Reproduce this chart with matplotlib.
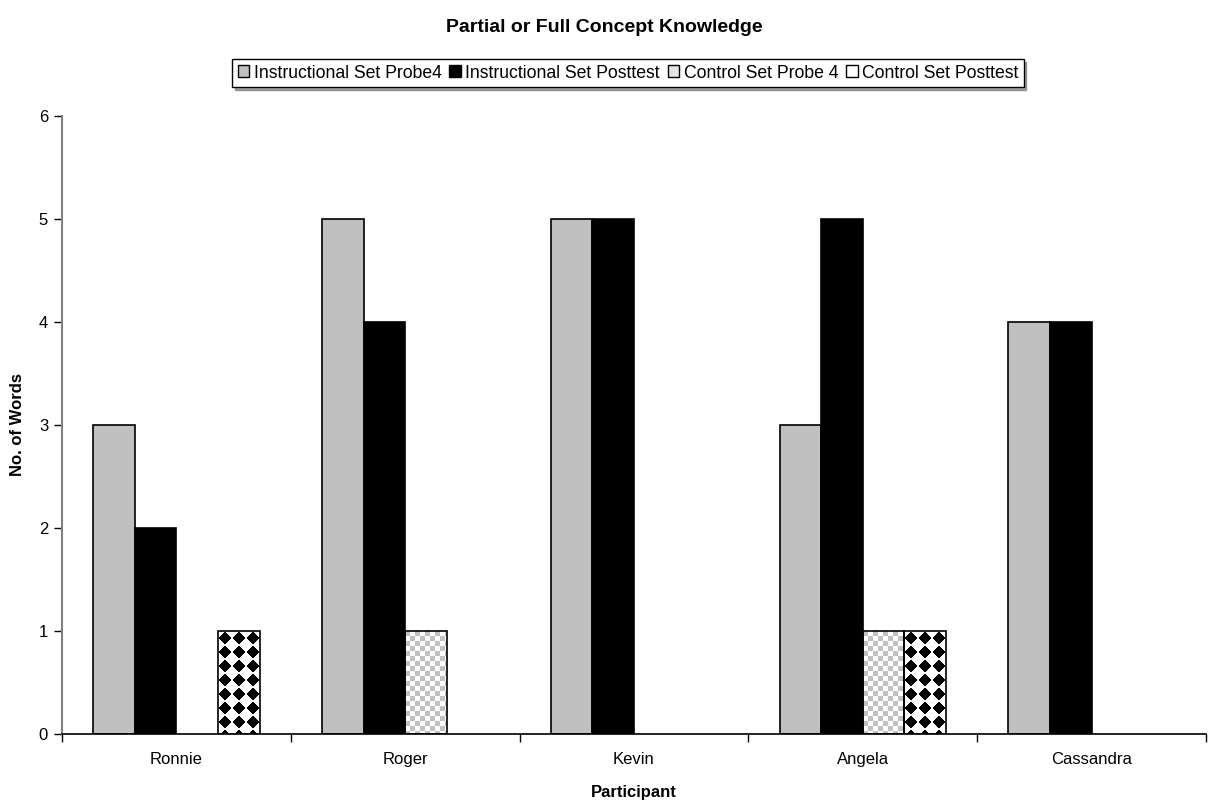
import numpy as np
import matplotlib
matplotlib.use("Agg")
import matplotlib.pyplot as plt
from matplotlib.patches import Patch

plt.rcParams['font.family'] = ['Liberation Sans', 'DejaVu Sans']

participants = ["Ronnie", "Roger", "Kevin", "Angela", "Cassandra"]
series_names = ["Instructional Set Probe4", "Instructional Set Posttest",
                "Control Set Probe 4", "Control Set Posttest"]
instr_probe4 = [3, 5, 5, 3, 4]
instr_posttest = [2, 4, 5, 5, 4]
control_probe4 = [0, 1, 0, 1, 0]
control_posttest = [1, 0, 0, 1, 0]
y_ticks = [0, 1, 2, 3, 4, 5, 6]

W, H, DPI = 12.08, 8.08, 100
fig = plt.figure(figsize=(W, H), dpi=DPI)
ax = fig.add_axes([62 / 1208, 1 - 734 / 808, (1206 - 62) / 1208, (734 - 116) / 808])

n = len(participants)
x = np.arange(n)
bw = 1 / 5.5
ax.set_xlim(-0.5, n - 0.5)
ax.set_ylim(0, 6)

# pixels per data unit, used for sizing the fill patterns
px_x = (1206 - 62) / n
px_y = (734 - 116) / 6


def checker(h_px, w_px, cell=5):
    yy, xx = np.mgrid[0:h_px, 0:w_px]
    on = ((yy // cell) + (xx // cell)) % 2 == 0
    img = np.ones((h_px, w_px, 3))
    img[on] = 0.76
    return img


def diamonds(h_px, w_px, step=14, r=6.2):
    yy, xx = np.mgrid[0:h_px, 0:w_px].astype(float)
    dx = np.abs(((xx + 0.5) % step) - step / 2)
    dy = np.abs(((yy + 0.5) % step) - step / 2)
    on = (dx + dy) <= r
    img = np.ones((h_px, w_px, 3))
    img[on] = 0.0
    return img


def patterned_bars(xpos, vals, maker):
    for xc, v in zip(xpos, vals):
        if v <= 0:
            continue
        rect = ax.bar(xc, v, bw, facecolor='white', edgecolor='none', zorder=2)[0]
        x0 = rect.get_x()
        w = rect.get_width()
        h_px = max(int(round(v * px_y)), 1)
        w_px = max(int(round(w * px_x)), 1)
        im = ax.imshow(maker(h_px, w_px), extent=(x0, x0 + w, 0, v),
                       origin='upper', interpolation='nearest', aspect='auto',
                       zorder=2.5)
        im.set_clip_path(rect)
        ax.bar(xc, v, bw, fill=False, edgecolor='black', linewidth=1.2, zorder=3)


ax.bar(x - 1.5 * bw, instr_probe4, bw, color='#c0c0c0', edgecolor='black',
       linewidth=1.2, zorder=3)
ax.bar(x - 0.5 * bw, instr_posttest, bw, color='black', edgecolor='black',
       linewidth=1.2, zorder=3)
patterned_bars(x + 0.5 * bw, control_probe4, checker)
patterned_bars(x + 1.5 * bw, control_posttest, diamonds)
ax.set_xlim(-0.5, n - 0.5)
ax.set_ylim(0, 6)

# axes styling
for s in ['top', 'right']:
    ax.spines[s].set_visible(False)
ax.spines['left'].set_color('#808080')
ax.spines['left'].set_linewidth(1.5)
ax.spines['bottom'].set_color('black')
ax.spines['bottom'].set_linewidth(1.2)
ax.spines['bottom'].set_zorder(4)

ax.set_yticks(y_ticks)
ax.tick_params(axis='y', length=6, width=1, color='black', labelsize=12, pad=4)
ax.set_xticks(np.arange(n + 1) - 0.5)
ax.set_xticklabels([])
ax.set_xticks(x, minor=True)
ax.set_xticklabels(participants, minor=True)
ax.tick_params(axis='x', which='major', length=6, width=1, direction='out')
ax.tick_params(axis='x', which='minor', length=0, labelsize=12, pad=13)

fig.text(18 / 1208, 1 - 425 / 808, "No. of Words", rotation=90,
         ha='center', va='center', fontsize=12, fontweight='bold')
fig.text(634 / 1208, 1 - 792 / 808, "Participant",
         ha='center', va='center', fontsize=12, fontweight='bold')

fig.text(604 / 1208, 1 - 28 / 808, "Partial or Full Concept Knowledge",
         ha='center', va='center', fontsize=14, fontweight='bold')

handles = [
    Patch(facecolor='#c0c0c0', edgecolor='black', linewidth=1),
    Patch(facecolor='black', edgecolor='black', linewidth=1),
    Patch(facecolor='#e4e4e4', edgecolor='black', linewidth=1),
    Patch(facecolor='white', edgecolor='black', linewidth=1),
]
leg = fig.legend(handles, series_names, loc='center',
                 bbox_to_anchor=(628 / 1208, 1 - 73 / 808), ncol=4,
                 fontsize=12.7, frameon=True, fancybox=False, shadow=True,
                 handlelength=0.65, handleheight=0.65, handletextpad=0.25,
                 columnspacing=0.45, borderpad=0.3, borderaxespad=0)
leg.get_frame().set_edgecolor('black')
leg.get_frame().set_linewidth(1)

fig.savefig("out.png", dpi=DPI)
